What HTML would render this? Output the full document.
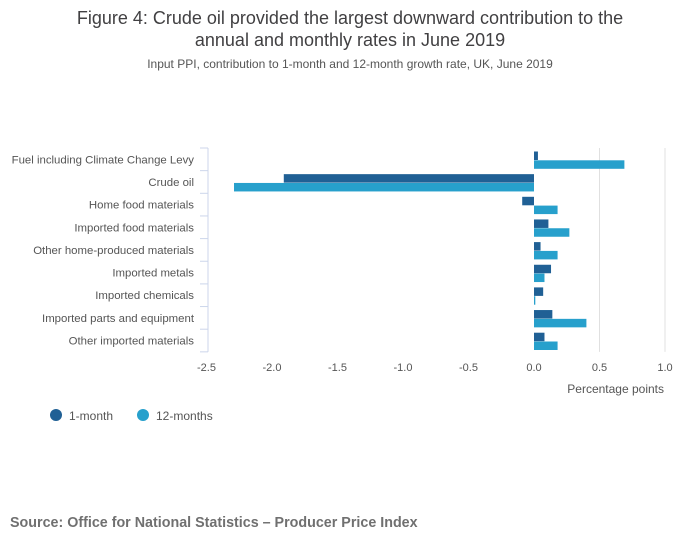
<!DOCTYPE html>
<html><head><meta charset="utf-8"><style>
body{margin:0;background:#fff;font-family:"Liberation Sans",sans-serif;}
svg text{font-family:"Liberation Sans",sans-serif;}
</style></head><body>
<svg width="700" height="549" id="c">
<text x="350" y="24" text-anchor="middle" font-size="18" fill="#414042">Figure 4: Crude oil provided the largest downward contribution to the</text>
<text x="350" y="46" text-anchor="middle" font-size="18" fill="#414042">annual and monthly rates in June 2019</text>
<text x="350" y="68" text-anchor="middle" font-size="12" fill="#555">Input PPI, contribution to 1-month and 12-month growth rate, UK, June 2019</text>
<g id="grid"></g><g id="bars"></g><g id="axes"></g>
<text x="664" y="393" text-anchor="end" font-size="12" fill="#555">Percentage points</text>
<circle cx="56" cy="415" r="6" fill="#206095"/>
<text x="69" y="420" font-size="12" fill="#555">1-month</text>
<circle cx="143" cy="415" r="6" fill="#27a0cc"/>
<text x="156" y="420" font-size="12" fill="#555">12-months</text>
<text x="10" y="527" font-size="14.3" font-weight="bold" fill="#707070">Source: Office for National Statistics – Producer Price Index</text>
</svg>
<script>
const categories=["Fuel including Climate Change Levy","Crude oil","Home food materials","Imported food materials","Other home-produced materials","Imported metals","Imported chemicals","Imported parts and equipment","Other imported materials"];
const oneMonth=[0.03,-1.91,-0.09,0.11,0.05,0.13,0.07,0.14,0.08];
const twelveMonths=[0.69,-2.29,0.18,0.27,0.18,0.08,0.01,0.40,0.18];
const xTicks=[-2.5,-2,-1.5,-1,-0.5,0,0.5,1];
const xTickLabels=["-2.5","-2.0","-1.5","-1.0","-0.5","0.0","0.5","1.0"];
const NS="http://www.w3.org/2000/svg";
const x=v=>534+v*131;
const top0=148,band=22.65;
function mk(t,a,p){const e=document.createElementNS(NS,t);for(const k in a)e.setAttribute(k,a[k]);p.appendChild(e);return e;}
const grid=document.getElementById('grid'),bars=document.getElementById('bars'),axes=document.getElementById('axes');
xTicks.forEach((v,i)=>{
 if(v>0){const l=mk('line',{x1:x(v),x2:x(v),y1:top0,y2:top0+band*9,stroke:'#e0e0e0','stroke-width':1},grid);
 
 }
 const t=mk('text',{x:x(v),y:371,'text-anchor':'middle','font-size':11,fill:'#555'},axes);
 t.textContent=xTickLabels[i];
 
 
});
const ax=mk('line',{x1:208,x2:208,y1:top0,y2:top0+band*9,stroke:'#ccd6eb'},axes);


for(let i=0;i<=9;i++){const tk=mk('line',{x1:200,x2:208,y1:top0+band*i,y2:top0+band*i,stroke:'#ccd6eb'},axes);
 
 }
categories.forEach((c,i)=>{
 const y0=top0+band*i;
 const t=mk('text',{x:194,y:y0+band/2+4,'text-anchor':'end','font-size':11.4,fill:'#555'},axes);
 t.textContent=c;
 
 
 const a=oneMonth[i],b=twelveMonths[i];
 const r1=mk('rect',{x:Math.min(x(0),x(a)),y:y0+3.5,width:Math.abs(x(a)-x(0)),height:8.5,fill:'#206095'},bars);
 
 
 const r2=mk('rect',{x:Math.min(x(0),x(b)),y:y0+12.3,width:Math.abs(x(b)-x(0)),height:8.5,fill:'#27a0cc'},bars);
 
 
});
</script>
</body></html>
